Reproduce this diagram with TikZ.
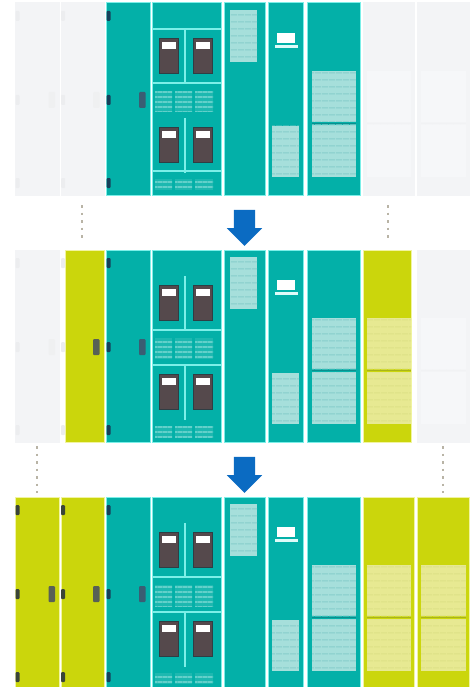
\documentclass[tikz,border=0pt]{standalone}
\usetikzlibrary{positioning, shapes.arrows, patterns.meta}

\definecolor{tealfill}{HTML}{03B0A8}
\definecolor{tealedge}{HTML}{7CEFE8}
\definecolor{tealhatch}{HTML}{A6DFDB}
\definecolor{tealstripe}{HTML}{86CDCB}
\definecolor{tealgrip}{HTML}{17405A}
\definecolor{tealseam}{HTML}{0A8F8E}
\definecolor{limefill}{HTML}{CBD60C}
\definecolor{limeedge}{HTML}{F1F4A0}
\definecolor{limehatch}{HTML}{E7E992}
\definecolor{limestripe}{HTML}{DDE186}
\definecolor{limegrip}{HTML}{3A4438}
\definecolor{limeseam}{HTML}{A9B51A}
\definecolor{palefill}{HTML}{F3F4F6}
\definecolor{paleedge}{HTML}{F3F4F6}
\definecolor{palehatch}{HTML}{F6F7F9}
\definecolor{palestripe}{HTML}{F6F7F9}
\definecolor{palegrip}{HTML}{ECEDEF}
\definecolor{paleseam}{HTML}{F1F2F4}
\definecolor{cellhatch}{HTML}{1DB8B0}
\definecolor{cellstripe}{HTML}{62D0CA}
\definecolor{srvfill}{HTML}{55494C}
\definecolor{srvedge}{HTML}{2F3E44}
\definecolor{arrowblue}{HTML}{0B6BC2}
\definecolor{dotgrey}{HTML}{B9B4A6}

\begin{document}
\begin{tikzpicture}[
  x=1pt, y=-1pt,
  part/.style={rectangle, anchor=north west, inner sep=0pt, outer sep=0pt},
  cab/.style={part, draw=#1edge, fill=#1fill, line width=1pt, minimum height=192pt},
  hatch/.style={part, preaction={fill=#1hatch},
                pattern={Lines[distance=6.5pt, line width=1pt]},
                pattern color=#1stripe},
  srvcell/.style={part, preaction={fill=cellhatch},
                  pattern={Lines[distance=5pt, line width=1.2pt]},
                  pattern color=cellstripe},
  edgegrip/.style={part, fill=#1grip, rounded corners=1pt,
                   minimum width=4pt, minimum height=10pt},
  midgrip/.style={part, fill=#1grip!85!white, rounded corners=1pt,
                  minimum width=6.5pt, minimum height=16pt},
  srv/.style={part, draw=srvedge, fill=srvfill, line width=0.8pt,
              minimum width=19pt, minimum height=35pt},
  tag/.style={part, fill=white, minimum width=14pt, minimum height=7pt},
  divider/.style={draw=tealedge, line width=1.5pt},
  blue/.style={shape=single arrow, fill=arrowblue, inner sep=10.5pt,
               minimum height=36pt, single arrow head extend=7pt,
               shape border rotate=270},
  dots/.style={draw=dotgrey, line width=2.2pt,
               dash pattern=on 2.5pt off 5pt},
]
  \path[use as bounding box, clip] (0,0) rectangle (475,687);

  \foreach \rw/\ty/\ca/\cb/\ch/\ci/\wb/\wh in {
    a/3/pale/pale/pale/pale/43/51,
    b/250/pale/lime/lime/pale/39/48,
    c/497/lime/lime/lime/lime/43/51}{
    % cabinets
    \node[cab=\ca, minimum width=44pt] (one\rw) at (15,\ty) {};
    \node[cab=teal, minimum width=44pt] (three\rw) at (106,\ty) {};
    \node[cab=\cb, minimum width=\wb pt, left=2pt of three\rw] (two\rw) {};
    \node[cab=teal, minimum width=69pt, right=2pt of three\rw] (four\rw) {};
    \node[cab=teal, minimum width=41pt, right=3pt of four\rw] (five\rw) {};
    \node[cab=teal, minimum width=35pt, right=3pt of five\rw] (six\rw) {};
    \node[cab=teal, minimum width=53pt, right=4pt of six\rw] (seven\rw) {};
    \node[cab=\ch, minimum width=\wh pt, right=3pt of seven\rw] (eight\rw) {};
    \node[cab=\ci, minimum width=52pt] (nine\rw) at (417,\ty) {};

    % grips
    \foreach \k/\gy in {1/8, 2/92, 3/175}{
      \node[edgegrip=\ca] (gripa\rw\k) at (15.5,\ty+\gy) {};
      \node[edgegrip=\ca] (gripb\rw\k) at (61,\ty+\gy) {};
      \node[edgegrip=teal] (gripc\rw\k) at (106.5,\ty+\gy) {};
    }
    \node[midgrip=\ca] (mida\rw) at (48.5,\ty+89) {};
    \node[midgrip=\cb] (midb\rw) at (93,\ty+89) {};
    \node[midgrip=teal] (midc\rw) at (139,\ty+89) {};

    % servers
    \foreach \k/\sx/\sy in {1/159/35, 2/193.5/35, 3/159/124, 4/193.5/124}{
      \node[srv] (srv\rw\k) at (\sx,\ty+\sy) {};
      \node[tag, below=4pt of srv\rw\k.north] (tag\rw\k) {};
    }
    \foreach \k/\sx/\sw in {1/155/17, 2/175/17, 3/195/18}{
      \node[srvcell, minimum width=\sw pt, minimum height=21pt] (cellup\rw\k) at (\sx,\ty+88) {};
      \node[srvcell, minimum width=\sw pt, minimum height=11pt] (celldn\rw\k) at (\sx,\ty+176) {};
    }

    % panels
    \draw[divider] (185,\ty+26) -- (185,\ty+80);
    \draw[divider] (185,\ty+115) -- (185,\ty+170);
    \draw[divider] (152,\ty+80) -- (221,\ty+80);
    \node[hatch=teal, minimum width=27pt, minimum height=52pt] (panela\rw) at (230,\ty+7) {};
    \node[hatch=teal, minimum width=27pt, minimum height=51pt] (panelb\rw) at (272,\ty+123) {};
    \node[hatch=teal, minimum width=44pt, minimum height=51pt] (panelc\rw) at (312,\ty+68) {};
    \node[hatch=teal, minimum width=44pt, minimum height=52pt] (paneld\rw) at (312,\ty+122) {};
    \node[hatch=\ch, minimum width=44pt, minimum height=51pt] (panele\rw) at (367,\ty+68) {};
    \node[hatch=\ch, minimum width=44pt, minimum height=52pt] (panelf\rw) at (367,\ty+122) {};
    \node[hatch=\ci, minimum width=45pt, minimum height=51pt] (panelg\rw) at (421,\ty+68) {};
    \node[hatch=\ci, minimum width=45pt, minimum height=52pt] (panelh\rw) at (421,\ty+122) {};
    \draw[tealseam, line width=1.2pt] (312,\ty+120.5) -- (356,\ty+120.5);
    \draw[\ch seam, line width=1.2pt] (367,\ty+120.5) -- (411,\ty+120.5);
    \draw[\ci seam, line width=1.2pt] (421,\ty+120.5) -- (466,\ty+120.5);

    % laptop
    \node[part, fill=white, minimum width=18pt, minimum height=10pt] (screen\rw) at (277,\ty+30) {};
    \node[part, fill=white!75!tealedge, minimum width=23pt, minimum height=3pt,
          below=2pt of screen\rw] (base\rw) {};
  }

  % only the first row is closed off at top and bottom
  \draw[divider] (152,29) -- (221,29);
  \draw[divider] (152,171) -- (221,171);
  \foreach \ty in {250, 497}{
    \draw[divider] (152,\ty+115) -- (221,\ty+115);
  }

  \node[blue] (firstarrow) at (244.5,222.5) {};
  \node[blue] (secondarrow) at (244.5,469.5) {};

  \coordinate (dotatop) at (82,205);
  \coordinate (dotabot) at (82,240);
  \coordinate (dotbtop) at (388,205);
  \coordinate (dotbbot) at (388,240);
  \coordinate (dotctop) at (37,446);
  \coordinate (dotcbot) at (37,493);
  \coordinate (dotdtop) at (443,446);
  \coordinate (dotdbot) at (443,493);
  \draw[dots] (dotatop) -- (dotabot);
  \draw[dots] (dotbtop) -- (dotbbot);
  \draw[dots] (dotctop) -- (dotcbot);
  \draw[dots] (dotdtop) -- (dotdbot);
\end{tikzpicture}
\end{document}
